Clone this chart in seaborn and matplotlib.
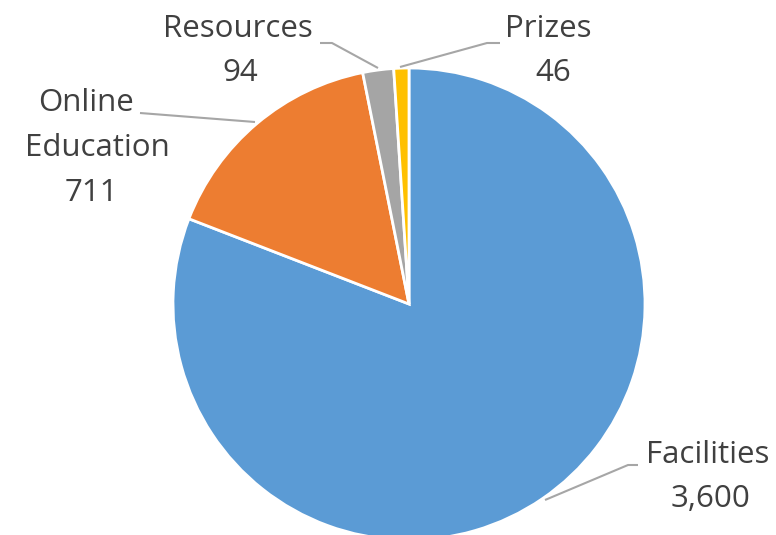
import numpy as np
import seaborn as sns
import matplotlib.pyplot as plt

# Pie data
categories = ["Facilities", "Online Education", "Resources", "Prizes"]
values = [3600, 711, 94, 46]
colors = ["#5B9BD5", "#ED7D31", "#A5A5A5", "#FFC000"]

TEXT = "#404040"
LEADER = "#A6A6A6"
W, H = 776, 535

sns.set_theme(style="white")
plt.rcParams["font.family"] = ["Open Sans", "DejaVu Sans"]

fig = plt.figure(figsize=(W / 100, H / 100), dpi=100)
ax = fig.add_axes([0, 0, 1, 1])

# work in pixel coords with y measured from the top
def py(y):
    return H - y

cx, cy, r = 409, 304, 236
ax.pie(
    values,
    colors=colors,
    startangle=90,
    counterclock=False,
    center=(cx, py(cy)),
    radius=r,
    wedgeprops=dict(edgecolor="white", linewidth=2),
    frame=True,
)
ax.set_xlim(0, W)
ax.set_ylim(0, H)
ax.set_aspect("equal")
ax.axis("off")

# label lines: (text, x centre, y centre) in pixels from top-left
label_lines = [
    (categories[0], 708, 455), (f"{values[0]:,}", 711, 499),
    ("Online", 86, 103), ("Education", 97, 148), (f"{values[1]:,}", 91, 193),
    (categories[2], 238, 29), (f"{values[2]:,}", 240, 73),
    (categories[3], 548, 29), (f"{values[3]:,}", 553, 73),
]
for txt, x, y in label_lines:
    ax.text(x, py(y), txt, ha="center", va="center",
            fontsize=22.5, color=TEXT)

# leader lines (pixel paths)
leaders = [
    [(545, 500), (628, 465), (638, 465)],
    [(140, 113), (255, 122)],
    [(320, 43), (332, 43), (378, 68)],
    [(500, 43), (487, 43), (400, 67)],
]
for path in leaders:
    xs = [p[0] for p in path]
    ys = [py(p[1]) for p in path]
    ax.plot(xs, ys, color=LEADER, linewidth=1.5, solid_capstyle="butt")

fig.savefig("out.png", dpi=100, facecolor="white")
